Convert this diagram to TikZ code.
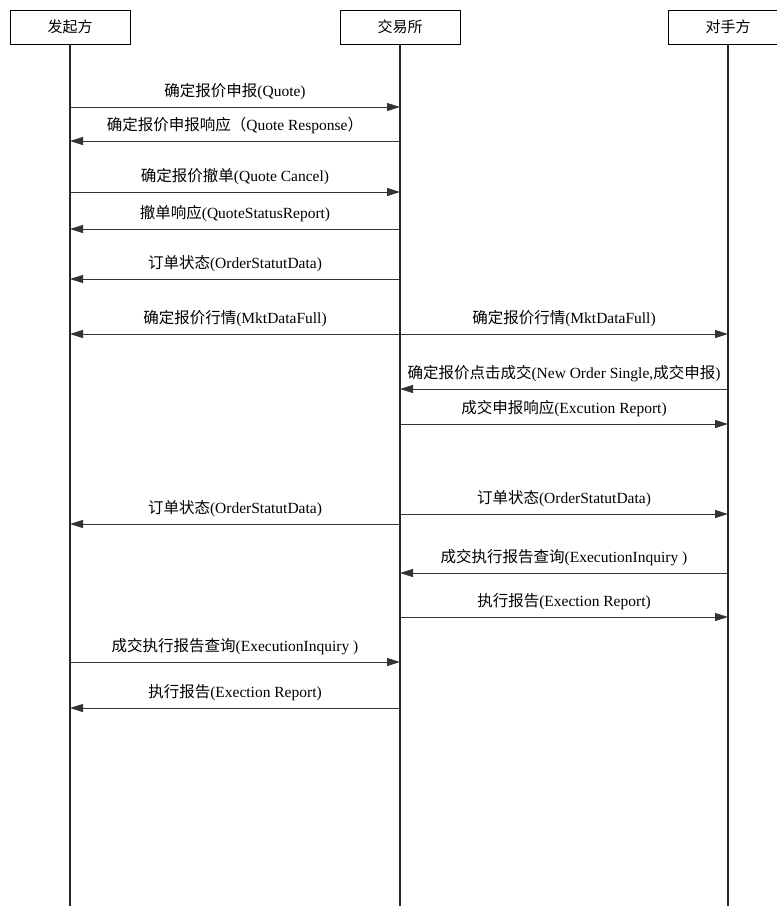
\documentclass[tikz,border=0pt]{standalone}
\usepackage{fontspec}
\setmainfont{Liberation Serif}
\newfontfamily\cjk{Noto Sans CJK SC}
\usetikzlibrary{arrows.meta}

\begin{document}
\begin{tikzpicture}
  [x=1pt, y=-1pt,
   party/.style={draw, line width=0.7pt, minimum width=120pt, minimum height=34pt,
     inner sep=0pt, font=\fontsize{15}{17}\selectfont},
   life/.style={line width=1.3pt, draw=black!85},
   msg/.style={-{Triangle[length=13pt,width=8pt]}, line width=1pt, draw=black!80},
   lbl/.style={above=7pt, inner sep=0pt, font=\fontsize{15.5}{18}\selectfont}]
  \useasboundingbox (0,0) rectangle (777,906);
  \clip (0,0) rectangle (777,906);

  \node[party] (init) at (70,27) {\cjk 发起方};
  \node[party] (exch) at (400,27) {\cjk 交易所};
  \node[party] (cpty) at (728,27) {\cjk 对手方};

  \foreach \p in {init,exch,cpty}
  \draw[life] (\p.south) -- (\p |- 0,906);

  \foreach \from/\to/\y/\txt in {
    init/exch/107/{{\cjk 确定报价申报}(Quote)},
    exch/init/141/{{\cjk 确定报价申报响应（}Quote Response{\cjk ）}},
    init/exch/192/{{\cjk 确定报价撤单}(Quote Cancel)},
    exch/init/229/{{\cjk 撤单响应}(QuoteStatusReport)},
    exch/init/279/{{\cjk 订单状态}(OrderStatutData)},
    exch/init/334/{{\cjk 确定报价行情}(MktDataFull)},
    exch/cpty/334/{{\cjk 确定报价行情}(MktDataFull)},
    cpty/exch/389/{{\cjk 确定报价点击成交}(New Order Single,{\cjk 成交申报})},
    exch/cpty/424/{{\cjk 成交申报响应}(Excution Report)},
    exch/cpty/514/{{\cjk 订单状态}(OrderStatutData)},
    exch/init/524/{{\cjk 订单状态}(OrderStatutData)},
    cpty/exch/573/{{\cjk 成交执行报告查询}(ExecutionInquiry )},
    exch/cpty/617/{{\cjk 执行报告}(Exection Report)},
    init/exch/662/{{\cjk 成交执行报告查询}(ExecutionInquiry )},
    exch/init/708/{{\cjk 执行报告}(Exection Report)}}
  \draw[msg] (\from |- 0,\y) -- node[lbl] {\txt} (\to |- 0,\y);

\end{tikzpicture}
\end{document}
